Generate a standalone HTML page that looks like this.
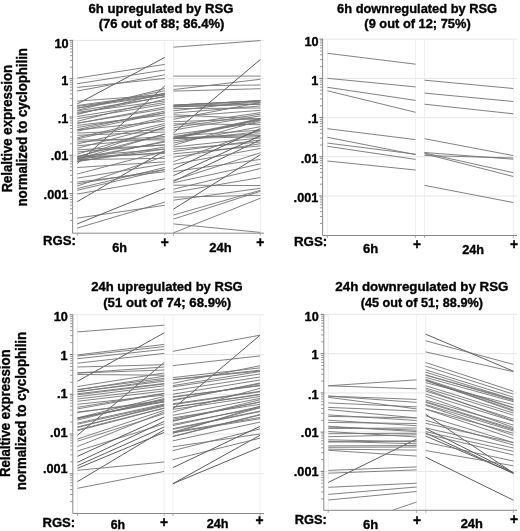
<!DOCTYPE html>
<html><head><meta charset="utf-8"><style>html,body{margin:0;padding:0;background:#fff;}svg{display:block;filter:grayscale(1) blur(0.35px);}</style></head>
<body><svg width="520" height="531" viewBox="0 0 520 531"><line x1="72.6" y1="40.40" x2="264" y2="40.40" stroke="#e6e6e6" stroke-width="1"/><line x1="72.6" y1="78.70" x2="264" y2="78.70" stroke="#e6e6e6" stroke-width="1"/><line x1="72.6" y1="117.00" x2="264" y2="117.00" stroke="#e6e6e6" stroke-width="1"/><line x1="72.6" y1="155.30" x2="264" y2="155.30" stroke="#e6e6e6" stroke-width="1"/><line x1="72.6" y1="193.60" x2="264" y2="193.60" stroke="#e6e6e6" stroke-width="1"/><line x1="77.3" y1="40.4" x2="77.3" y2="233.2" stroke="#efefef" stroke-width="1"/><line x1="164.8" y1="40.4" x2="164.8" y2="233.2" stroke="#efefef" stroke-width="1"/><line x1="173.5" y1="40.4" x2="173.5" y2="233.2" stroke="#efefef" stroke-width="1"/><line x1="260.4" y1="40.4" x2="260.4" y2="233.2" stroke="#efefef" stroke-width="1"/><line x1="77.3" y1="103.9" x2="164.8" y2="57.4" stroke="#5e5e5e" stroke-width="1.0"/><line x1="77.3" y1="163.4" x2="164.8" y2="86" stroke="#5e5e5e" stroke-width="1.0"/><line x1="77.3" y1="201.6" x2="164.8" y2="150.6" stroke="#5e5e5e" stroke-width="1.0"/><line x1="77.3" y1="218.1" x2="164.8" y2="205.3" stroke="#747474" stroke-width="0.9"/><line x1="77.3" y1="223.9" x2="164.8" y2="188.5" stroke="#5e5e5e" stroke-width="1.0"/><line x1="77.3" y1="228.1" x2="164.8" y2="202.1" stroke="#747474" stroke-width="0.9"/><line x1="77.3" y1="157.5" x2="164.8" y2="127.0" stroke="#747474" stroke-width="0.9"/><line x1="77.3" y1="159.0" x2="164.8" y2="134.0" stroke="#747474" stroke-width="0.9"/><line x1="77.3" y1="160.5" x2="164.8" y2="141.0" stroke="#747474" stroke-width="0.9"/><line x1="77.3" y1="161.5" x2="164.8" y2="149.0" stroke="#747474" stroke-width="0.9"/><line x1="77.3" y1="158.5" x2="164.8" y2="152.5" stroke="#747474" stroke-width="0.9"/><line x1="77.3" y1="105.5" x2="164.8" y2="93.5" stroke="#747474" stroke-width="0.9"/><line x1="77.3" y1="108.0" x2="164.8" y2="95.0" stroke="#747474" stroke-width="0.9"/><line x1="77.3" y1="111.0" x2="164.8" y2="96.8" stroke="#747474" stroke-width="0.9"/><line x1="77.3" y1="78.1" x2="164.8" y2="64.4" stroke="#747474" stroke-width="0.9"/><line x1="77.3" y1="83.7" x2="164.8" y2="70.0" stroke="#747474" stroke-width="0.9"/><line x1="77.3" y1="87.4" x2="164.8" y2="78.5" stroke="#747474" stroke-width="0.9"/><line x1="77.3" y1="91.0" x2="164.8" y2="74.7" stroke="#747474" stroke-width="0.9"/><line x1="77.3" y1="101.2" x2="164.8" y2="94.7" stroke="#747474" stroke-width="0.9"/><line x1="77.3" y1="106.4" x2="164.8" y2="94.7" stroke="#747474" stroke-width="0.9"/><line x1="77.3" y1="108.3" x2="164.8" y2="90.7" stroke="#747474" stroke-width="0.9"/><line x1="77.3" y1="110.3" x2="164.8" y2="88.5" stroke="#747474" stroke-width="0.9"/><line x1="77.3" y1="112.4" x2="164.8" y2="100.9" stroke="#747474" stroke-width="0.9"/><line x1="77.3" y1="113.6" x2="164.8" y2="96.4" stroke="#747474" stroke-width="0.9"/><line x1="77.3" y1="114.4" x2="164.8" y2="93.0" stroke="#747474" stroke-width="0.9"/><line x1="77.3" y1="116.5" x2="164.8" y2="102.6" stroke="#747474" stroke-width="0.9"/><line x1="77.3" y1="118.7" x2="164.8" y2="104.3" stroke="#747474" stroke-width="0.9"/><line x1="77.3" y1="121.3" x2="164.8" y2="99.2" stroke="#747474" stroke-width="0.9"/><line x1="77.3" y1="123.2" x2="164.8" y2="108.8" stroke="#747474" stroke-width="0.9"/><line x1="77.3" y1="123.3" x2="164.8" y2="107.1" stroke="#747474" stroke-width="0.9"/><line x1="77.3" y1="125.4" x2="164.8" y2="115.0" stroke="#747474" stroke-width="0.9"/><line x1="77.3" y1="127.5" x2="164.8" y2="112.8" stroke="#747474" stroke-width="0.9"/><line x1="77.3" y1="129.6" x2="164.8" y2="111.1" stroke="#747474" stroke-width="0.9"/><line x1="77.3" y1="129.9" x2="164.8" y2="121.2" stroke="#747474" stroke-width="0.9"/><line x1="77.3" y1="131.1" x2="164.8" y2="112.8" stroke="#747474" stroke-width="0.9"/><line x1="77.3" y1="133.1" x2="164.8" y2="129.7" stroke="#747474" stroke-width="0.9"/><line x1="77.3" y1="135.3" x2="164.8" y2="132.0" stroke="#747474" stroke-width="0.9"/><line x1="77.3" y1="137.7" x2="164.8" y2="117.3" stroke="#747474" stroke-width="0.9"/><line x1="77.3" y1="139.0" x2="164.8" y2="119.0" stroke="#747474" stroke-width="0.9"/><line x1="77.3" y1="139.9" x2="164.8" y2="139.9" stroke="#747474" stroke-width="0.9"/><line x1="77.3" y1="142.0" x2="164.8" y2="136.5" stroke="#747474" stroke-width="0.9"/><line x1="77.3" y1="144.0" x2="164.8" y2="123.5" stroke="#747474" stroke-width="0.9"/><line x1="77.3" y1="145.8" x2="164.8" y2="137.8" stroke="#747474" stroke-width="0.9"/><line x1="77.3" y1="148.3" x2="164.8" y2="125.2" stroke="#747474" stroke-width="0.9"/><line x1="77.3" y1="149.9" x2="164.8" y2="144.9" stroke="#747474" stroke-width="0.9"/><line x1="77.3" y1="152.0" x2="164.8" y2="144.9" stroke="#747474" stroke-width="0.9"/><line x1="77.3" y1="154.1" x2="164.8" y2="127.5" stroke="#747474" stroke-width="0.9"/><line x1="77.3" y1="156.3" x2="164.8" y2="149.1" stroke="#747474" stroke-width="0.9"/><line x1="77.3" y1="156.5" x2="164.8" y2="134.2" stroke="#747474" stroke-width="0.9"/><line x1="77.3" y1="157.1" x2="164.8" y2="153.4" stroke="#747474" stroke-width="0.9"/><line x1="77.3" y1="158.4" x2="164.8" y2="142.0" stroke="#747474" stroke-width="0.9"/><line x1="77.3" y1="159.6" x2="164.8" y2="158.3" stroke="#747474" stroke-width="0.9"/><line x1="77.3" y1="161.4" x2="164.8" y2="147.0" stroke="#747474" stroke-width="0.9"/><line x1="77.3" y1="167.5" x2="164.8" y2="161.8" stroke="#747474" stroke-width="0.9"/><line x1="77.3" y1="174.0" x2="164.8" y2="151.2" stroke="#747474" stroke-width="0.9"/><line x1="77.3" y1="178.1" x2="164.8" y2="164.0" stroke="#747474" stroke-width="0.9"/><line x1="77.3" y1="182.1" x2="164.8" y2="171.7" stroke="#747474" stroke-width="0.9"/><line x1="77.3" y1="183.8" x2="164.8" y2="169.6" stroke="#747474" stroke-width="0.9"/><line x1="77.3" y1="186.0" x2="164.8" y2="156.2" stroke="#747474" stroke-width="0.9"/><line x1="77.3" y1="188.5" x2="164.8" y2="167.5" stroke="#747474" stroke-width="0.9"/><line x1="77.3" y1="190.3" x2="164.8" y2="169.6" stroke="#747474" stroke-width="0.9"/><line x1="77.3" y1="194.0" x2="164.8" y2="178.8" stroke="#747474" stroke-width="0.9"/><line x1="173.5" y1="47.2" x2="260.4" y2="40.6" stroke="#747474" stroke-width="0.9"/><line x1="173.5" y1="76.1" x2="260.4" y2="76.1" stroke="#747474" stroke-width="0.9"/><line x1="173.5" y1="89.6" x2="260.4" y2="79.3" stroke="#747474" stroke-width="0.9"/><line x1="173.5" y1="91.1" x2="260.4" y2="88.7" stroke="#747474" stroke-width="0.9"/><line x1="173.5" y1="86" x2="260.4" y2="85" stroke="#747474" stroke-width="0.9"/><line x1="173.5" y1="132.9" x2="260.4" y2="59.5" stroke="#5e5e5e" stroke-width="1.0"/><line x1="173.5" y1="223.9" x2="260.4" y2="232.4" stroke="#747474" stroke-width="0.9"/><line x1="173.5" y1="232.8" x2="260.4" y2="198.2" stroke="#747474" stroke-width="0.9"/><line x1="173.5" y1="219" x2="260.4" y2="191.3" stroke="#747474" stroke-width="0.9"/><line x1="173.5" y1="215" x2="260.4" y2="190.3" stroke="#747474" stroke-width="0.9"/><line x1="173.5" y1="209.1" x2="260.4" y2="154.7" stroke="#5e5e5e" stroke-width="1.0"/><line x1="173.5" y1="200.2" x2="260.4" y2="188.3" stroke="#747474" stroke-width="0.9"/><line x1="173.5" y1="197.2" x2="260.4" y2="195.3" stroke="#747474" stroke-width="0.9"/><line x1="173.5" y1="192.3" x2="260.4" y2="177.5" stroke="#747474" stroke-width="0.9"/><line x1="173.5" y1="181.4" x2="260.4" y2="139.9" stroke="#5e5e5e" stroke-width="1.0"/><line x1="173.5" y1="161.6" x2="260.4" y2="130" stroke="#747474" stroke-width="0.9"/><line x1="173.5" y1="105.3" x2="260.4" y2="100.5" stroke="#747474" stroke-width="0.9"/><line x1="173.5" y1="106.0" x2="260.4" y2="102.5" stroke="#747474" stroke-width="0.9"/><line x1="173.5" y1="106.8" x2="260.4" y2="104.0" stroke="#747474" stroke-width="0.9"/><line x1="173.5" y1="137.2" x2="260.4" y2="118.5" stroke="#747474" stroke-width="0.9"/><line x1="173.5" y1="138.2" x2="260.4" y2="119.3" stroke="#747474" stroke-width="0.9"/><line x1="173.5" y1="139.0" x2="260.4" y2="120.0" stroke="#747474" stroke-width="0.9"/><line x1="173.5" y1="137.8" x2="260.4" y2="135.5" stroke="#747474" stroke-width="0.9"/><line x1="173.5" y1="138.6" x2="260.4" y2="136.8" stroke="#747474" stroke-width="0.9"/><line x1="173.5" y1="105.2" x2="260.4" y2="100.8" stroke="#747474" stroke-width="0.9"/><line x1="173.5" y1="105.2" x2="260.4" y2="100.8" stroke="#747474" stroke-width="0.9"/><line x1="173.5" y1="106.9" x2="260.4" y2="104.2" stroke="#747474" stroke-width="0.9"/><line x1="173.5" y1="108.6" x2="260.4" y2="108.0" stroke="#747474" stroke-width="0.9"/><line x1="173.5" y1="110.8" x2="260.4" y2="100.8" stroke="#747474" stroke-width="0.9"/><line x1="173.5" y1="113.1" x2="260.4" y2="106.0" stroke="#747474" stroke-width="0.9"/><line x1="173.5" y1="114.8" x2="260.4" y2="118.9" stroke="#747474" stroke-width="0.9"/><line x1="173.5" y1="117.0" x2="260.4" y2="110.3" stroke="#747474" stroke-width="0.9"/><line x1="173.5" y1="119.3" x2="260.4" y2="102.5" stroke="#747474" stroke-width="0.9"/><line x1="173.5" y1="121.6" x2="260.4" y2="118.9" stroke="#747474" stroke-width="0.9"/><line x1="173.5" y1="123.8" x2="260.4" y2="124.7" stroke="#747474" stroke-width="0.9"/><line x1="173.5" y1="125.5" x2="260.4" y2="112.6" stroke="#747474" stroke-width="0.9"/><line x1="173.5" y1="127.8" x2="260.4" y2="114.1" stroke="#747474" stroke-width="0.9"/><line x1="173.5" y1="130.0" x2="260.4" y2="115.8" stroke="#747474" stroke-width="0.9"/><line x1="173.5" y1="134.5" x2="260.4" y2="122.6" stroke="#747474" stroke-width="0.9"/><line x1="173.5" y1="136.2" x2="260.4" y2="130.1" stroke="#747474" stroke-width="0.9"/><line x1="173.5" y1="138.5" x2="260.4" y2="118.9" stroke="#747474" stroke-width="0.9"/><line x1="173.5" y1="138.5" x2="260.4" y2="133.8" stroke="#747474" stroke-width="0.9"/><line x1="173.5" y1="140.8" x2="260.4" y2="131.7" stroke="#747474" stroke-width="0.9"/><line x1="173.5" y1="143.0" x2="260.4" y2="126.7" stroke="#747474" stroke-width="0.9"/><line x1="173.5" y1="145.3" x2="260.4" y2="120.6" stroke="#747474" stroke-width="0.9"/><line x1="173.5" y1="147.0" x2="260.4" y2="137.9" stroke="#747474" stroke-width="0.9"/><line x1="173.5" y1="149.2" x2="260.4" y2="142.0" stroke="#747474" stroke-width="0.9"/><line x1="173.5" y1="151.5" x2="260.4" y2="140.0" stroke="#747474" stroke-width="0.9"/><line x1="173.5" y1="153.8" x2="260.4" y2="145.9" stroke="#747474" stroke-width="0.9"/><line x1="173.5" y1="157.2" x2="260.4" y2="143.7" stroke="#747474" stroke-width="0.9"/><line x1="173.5" y1="164.4" x2="260.4" y2="148.4" stroke="#747474" stroke-width="0.9"/><line x1="173.5" y1="169.2" x2="260.4" y2="128.5" stroke="#5e5e5e" stroke-width="1.0"/><line x1="173.5" y1="171.6" x2="260.4" y2="159.4" stroke="#747474" stroke-width="0.9"/><line x1="173.5" y1="175.6" x2="260.4" y2="135.8" stroke="#5e5e5e" stroke-width="1.0"/><line x1="173.5" y1="180.4" x2="260.4" y2="152.7" stroke="#747474" stroke-width="0.9"/><line x1="173.5" y1="182.8" x2="260.4" y2="163.9" stroke="#747474" stroke-width="0.9"/><line x1="173.5" y1="185.2" x2="260.4" y2="185.6" stroke="#747474" stroke-width="0.9"/><line x1="173.5" y1="189.2" x2="260.4" y2="168.5" stroke="#747474" stroke-width="0.9"/><line x1="72.6" y1="39.9" x2="72.6" y2="233.2" stroke="#888888" stroke-width="1"/><line x1="72.6" y1="233.2" x2="264" y2="233.2" stroke="#888888" stroke-width="1"/><line x1="69.39999999999999" y1="40.40" x2="72.6" y2="40.40" stroke="#7a7a7a" stroke-width="1"/><line x1="70.0" y1="67.17" x2="72.6" y2="67.17" stroke="#8c8c8c" stroke-width="0.9"/><line x1="70.0" y1="60.43" x2="72.6" y2="60.43" stroke="#8c8c8c" stroke-width="0.9"/><line x1="70.0" y1="55.64" x2="72.6" y2="55.64" stroke="#8c8c8c" stroke-width="0.9"/><line x1="70.0" y1="51.93" x2="72.6" y2="51.93" stroke="#8c8c8c" stroke-width="0.9"/><line x1="70.0" y1="48.90" x2="72.6" y2="48.90" stroke="#8c8c8c" stroke-width="0.9"/><line x1="70.0" y1="46.33" x2="72.6" y2="46.33" stroke="#8c8c8c" stroke-width="0.9"/><line x1="70.0" y1="44.11" x2="72.6" y2="44.11" stroke="#8c8c8c" stroke-width="0.9"/><line x1="70.0" y1="42.15" x2="72.6" y2="42.15" stroke="#8c8c8c" stroke-width="0.9"/><line x1="69.39999999999999" y1="78.70" x2="72.6" y2="78.70" stroke="#7a7a7a" stroke-width="1"/><line x1="70.0" y1="105.47" x2="72.6" y2="105.47" stroke="#8c8c8c" stroke-width="0.9"/><line x1="70.0" y1="98.73" x2="72.6" y2="98.73" stroke="#8c8c8c" stroke-width="0.9"/><line x1="70.0" y1="93.94" x2="72.6" y2="93.94" stroke="#8c8c8c" stroke-width="0.9"/><line x1="70.0" y1="90.23" x2="72.6" y2="90.23" stroke="#8c8c8c" stroke-width="0.9"/><line x1="70.0" y1="87.20" x2="72.6" y2="87.20" stroke="#8c8c8c" stroke-width="0.9"/><line x1="70.0" y1="84.63" x2="72.6" y2="84.63" stroke="#8c8c8c" stroke-width="0.9"/><line x1="70.0" y1="82.41" x2="72.6" y2="82.41" stroke="#8c8c8c" stroke-width="0.9"/><line x1="70.0" y1="80.45" x2="72.6" y2="80.45" stroke="#8c8c8c" stroke-width="0.9"/><line x1="69.39999999999999" y1="117.00" x2="72.6" y2="117.00" stroke="#7a7a7a" stroke-width="1"/><line x1="70.0" y1="143.77" x2="72.6" y2="143.77" stroke="#8c8c8c" stroke-width="0.9"/><line x1="70.0" y1="137.03" x2="72.6" y2="137.03" stroke="#8c8c8c" stroke-width="0.9"/><line x1="70.0" y1="132.24" x2="72.6" y2="132.24" stroke="#8c8c8c" stroke-width="0.9"/><line x1="70.0" y1="128.53" x2="72.6" y2="128.53" stroke="#8c8c8c" stroke-width="0.9"/><line x1="70.0" y1="125.50" x2="72.6" y2="125.50" stroke="#8c8c8c" stroke-width="0.9"/><line x1="70.0" y1="122.93" x2="72.6" y2="122.93" stroke="#8c8c8c" stroke-width="0.9"/><line x1="70.0" y1="120.71" x2="72.6" y2="120.71" stroke="#8c8c8c" stroke-width="0.9"/><line x1="70.0" y1="118.75" x2="72.6" y2="118.75" stroke="#8c8c8c" stroke-width="0.9"/><line x1="69.39999999999999" y1="155.30" x2="72.6" y2="155.30" stroke="#7a7a7a" stroke-width="1"/><line x1="70.0" y1="182.07" x2="72.6" y2="182.07" stroke="#8c8c8c" stroke-width="0.9"/><line x1="70.0" y1="175.33" x2="72.6" y2="175.33" stroke="#8c8c8c" stroke-width="0.9"/><line x1="70.0" y1="170.54" x2="72.6" y2="170.54" stroke="#8c8c8c" stroke-width="0.9"/><line x1="70.0" y1="166.83" x2="72.6" y2="166.83" stroke="#8c8c8c" stroke-width="0.9"/><line x1="70.0" y1="163.80" x2="72.6" y2="163.80" stroke="#8c8c8c" stroke-width="0.9"/><line x1="70.0" y1="161.23" x2="72.6" y2="161.23" stroke="#8c8c8c" stroke-width="0.9"/><line x1="70.0" y1="159.01" x2="72.6" y2="159.01" stroke="#8c8c8c" stroke-width="0.9"/><line x1="70.0" y1="157.05" x2="72.6" y2="157.05" stroke="#8c8c8c" stroke-width="0.9"/><line x1="69.39999999999999" y1="193.60" x2="72.6" y2="193.60" stroke="#7a7a7a" stroke-width="1"/><line x1="70.0" y1="220.37" x2="72.6" y2="220.37" stroke="#8c8c8c" stroke-width="0.9"/><line x1="70.0" y1="213.63" x2="72.6" y2="213.63" stroke="#8c8c8c" stroke-width="0.9"/><line x1="70.0" y1="208.84" x2="72.6" y2="208.84" stroke="#8c8c8c" stroke-width="0.9"/><line x1="70.0" y1="205.13" x2="72.6" y2="205.13" stroke="#8c8c8c" stroke-width="0.9"/><line x1="70.0" y1="202.10" x2="72.6" y2="202.10" stroke="#8c8c8c" stroke-width="0.9"/><line x1="70.0" y1="199.53" x2="72.6" y2="199.53" stroke="#8c8c8c" stroke-width="0.9"/><line x1="70.0" y1="197.31" x2="72.6" y2="197.31" stroke="#8c8c8c" stroke-width="0.9"/><line x1="70.0" y1="195.35" x2="72.6" y2="195.35" stroke="#8c8c8c" stroke-width="0.9"/><line x1="77.3" y1="233.2" x2="77.3" y2="235.7" stroke="#9a9a9a" stroke-width="0.8"/><line x1="164.8" y1="233.2" x2="164.8" y2="235.7" stroke="#9a9a9a" stroke-width="0.8"/><line x1="173.5" y1="233.2" x2="173.5" y2="235.7" stroke="#9a9a9a" stroke-width="0.8"/><line x1="260.4" y1="233.2" x2="260.4" y2="235.7" stroke="#9a9a9a" stroke-width="0.8"/><line x1="322.6" y1="39.20" x2="517" y2="39.20" stroke="#e6e6e6" stroke-width="1"/><line x1="322.6" y1="78.40" x2="517" y2="78.40" stroke="#e6e6e6" stroke-width="1"/><line x1="322.6" y1="117.60" x2="517" y2="117.60" stroke="#e6e6e6" stroke-width="1"/><line x1="322.6" y1="156.80" x2="517" y2="156.80" stroke="#e6e6e6" stroke-width="1"/><line x1="322.6" y1="196.00" x2="517" y2="196.00" stroke="#e6e6e6" stroke-width="1"/><line x1="327.5" y1="39.2" x2="327.5" y2="235.5" stroke="#efefef" stroke-width="1"/><line x1="415.6" y1="39.2" x2="415.6" y2="235.5" stroke="#efefef" stroke-width="1"/><line x1="424.5" y1="39.2" x2="424.5" y2="235.5" stroke="#efefef" stroke-width="1"/><line x1="513.3" y1="39.2" x2="513.3" y2="235.5" stroke="#efefef" stroke-width="1"/><line x1="327.5" y1="53.3" x2="415.6" y2="64.2" stroke="#747474" stroke-width="0.9"/><line x1="327.5" y1="78.3" x2="415.6" y2="86.9" stroke="#747474" stroke-width="0.9"/><line x1="327.5" y1="87.3" x2="415.6" y2="100.4" stroke="#747474" stroke-width="0.9"/><line x1="327.5" y1="90.8" x2="415.6" y2="112.3" stroke="#747474" stroke-width="0.9"/><line x1="327.5" y1="128.7" x2="415.6" y2="139.6" stroke="#747474" stroke-width="0.9"/><line x1="327.5" y1="137.3" x2="415.6" y2="154.6" stroke="#747474" stroke-width="0.9"/><line x1="327.5" y1="143.1" x2="415.6" y2="154.2" stroke="#747474" stroke-width="0.9"/><line x1="327.5" y1="146.3" x2="415.6" y2="159.4" stroke="#747474" stroke-width="0.9"/><line x1="327.5" y1="161" x2="415.6" y2="170" stroke="#747474" stroke-width="0.9"/><line x1="424.5" y1="80.2" x2="513.3" y2="88.5" stroke="#747474" stroke-width="0.9"/><line x1="424.5" y1="93.1" x2="513.3" y2="101.5" stroke="#747474" stroke-width="0.9"/><line x1="424.5" y1="104.2" x2="513.3" y2="113.8" stroke="#747474" stroke-width="0.9"/><line x1="424.5" y1="138.7" x2="513.3" y2="155.6" stroke="#747474" stroke-width="0.9"/><line x1="424.5" y1="152.5" x2="513.3" y2="159.2" stroke="#747474" stroke-width="0.9"/><line x1="424.5" y1="155.5" x2="513.3" y2="158" stroke="#747474" stroke-width="0.9"/><line x1="424.5" y1="153" x2="513.3" y2="172.7" stroke="#747474" stroke-width="0.9"/><line x1="424.5" y1="153.8" x2="513.3" y2="176.5" stroke="#747474" stroke-width="0.9"/><line x1="424.5" y1="185.4" x2="513.3" y2="202.5" stroke="#747474" stroke-width="0.9"/><line x1="322.6" y1="38.7" x2="322.6" y2="235.5" stroke="#888888" stroke-width="1"/><line x1="322.6" y1="235.5" x2="517" y2="235.5" stroke="#888888" stroke-width="1"/><line x1="319.40000000000003" y1="39.20" x2="322.6" y2="39.20" stroke="#7a7a7a" stroke-width="1"/><line x1="320.0" y1="66.60" x2="322.6" y2="66.60" stroke="#8c8c8c" stroke-width="0.9"/><line x1="320.0" y1="59.70" x2="322.6" y2="59.70" stroke="#8c8c8c" stroke-width="0.9"/><line x1="320.0" y1="54.80" x2="322.6" y2="54.80" stroke="#8c8c8c" stroke-width="0.9"/><line x1="320.0" y1="51.00" x2="322.6" y2="51.00" stroke="#8c8c8c" stroke-width="0.9"/><line x1="320.0" y1="47.90" x2="322.6" y2="47.90" stroke="#8c8c8c" stroke-width="0.9"/><line x1="320.0" y1="45.27" x2="322.6" y2="45.27" stroke="#8c8c8c" stroke-width="0.9"/><line x1="320.0" y1="43.00" x2="322.6" y2="43.00" stroke="#8c8c8c" stroke-width="0.9"/><line x1="320.0" y1="40.99" x2="322.6" y2="40.99" stroke="#8c8c8c" stroke-width="0.9"/><line x1="319.40000000000003" y1="78.40" x2="322.6" y2="78.40" stroke="#7a7a7a" stroke-width="1"/><line x1="320.0" y1="105.80" x2="322.6" y2="105.80" stroke="#8c8c8c" stroke-width="0.9"/><line x1="320.0" y1="98.90" x2="322.6" y2="98.90" stroke="#8c8c8c" stroke-width="0.9"/><line x1="320.0" y1="94.00" x2="322.6" y2="94.00" stroke="#8c8c8c" stroke-width="0.9"/><line x1="320.0" y1="90.20" x2="322.6" y2="90.20" stroke="#8c8c8c" stroke-width="0.9"/><line x1="320.0" y1="87.10" x2="322.6" y2="87.10" stroke="#8c8c8c" stroke-width="0.9"/><line x1="320.0" y1="84.47" x2="322.6" y2="84.47" stroke="#8c8c8c" stroke-width="0.9"/><line x1="320.0" y1="82.20" x2="322.6" y2="82.20" stroke="#8c8c8c" stroke-width="0.9"/><line x1="320.0" y1="80.19" x2="322.6" y2="80.19" stroke="#8c8c8c" stroke-width="0.9"/><line x1="319.40000000000003" y1="117.60" x2="322.6" y2="117.60" stroke="#7a7a7a" stroke-width="1"/><line x1="320.0" y1="145.00" x2="322.6" y2="145.00" stroke="#8c8c8c" stroke-width="0.9"/><line x1="320.0" y1="138.10" x2="322.6" y2="138.10" stroke="#8c8c8c" stroke-width="0.9"/><line x1="320.0" y1="133.20" x2="322.6" y2="133.20" stroke="#8c8c8c" stroke-width="0.9"/><line x1="320.0" y1="129.40" x2="322.6" y2="129.40" stroke="#8c8c8c" stroke-width="0.9"/><line x1="320.0" y1="126.30" x2="322.6" y2="126.30" stroke="#8c8c8c" stroke-width="0.9"/><line x1="320.0" y1="123.67" x2="322.6" y2="123.67" stroke="#8c8c8c" stroke-width="0.9"/><line x1="320.0" y1="121.40" x2="322.6" y2="121.40" stroke="#8c8c8c" stroke-width="0.9"/><line x1="320.0" y1="119.39" x2="322.6" y2="119.39" stroke="#8c8c8c" stroke-width="0.9"/><line x1="319.40000000000003" y1="156.80" x2="322.6" y2="156.80" stroke="#7a7a7a" stroke-width="1"/><line x1="320.0" y1="184.20" x2="322.6" y2="184.20" stroke="#8c8c8c" stroke-width="0.9"/><line x1="320.0" y1="177.30" x2="322.6" y2="177.30" stroke="#8c8c8c" stroke-width="0.9"/><line x1="320.0" y1="172.40" x2="322.6" y2="172.40" stroke="#8c8c8c" stroke-width="0.9"/><line x1="320.0" y1="168.60" x2="322.6" y2="168.60" stroke="#8c8c8c" stroke-width="0.9"/><line x1="320.0" y1="165.50" x2="322.6" y2="165.50" stroke="#8c8c8c" stroke-width="0.9"/><line x1="320.0" y1="162.87" x2="322.6" y2="162.87" stroke="#8c8c8c" stroke-width="0.9"/><line x1="320.0" y1="160.60" x2="322.6" y2="160.60" stroke="#8c8c8c" stroke-width="0.9"/><line x1="320.0" y1="158.59" x2="322.6" y2="158.59" stroke="#8c8c8c" stroke-width="0.9"/><line x1="319.40000000000003" y1="196.00" x2="322.6" y2="196.00" stroke="#7a7a7a" stroke-width="1"/><line x1="320.0" y1="223.40" x2="322.6" y2="223.40" stroke="#8c8c8c" stroke-width="0.9"/><line x1="320.0" y1="216.50" x2="322.6" y2="216.50" stroke="#8c8c8c" stroke-width="0.9"/><line x1="320.0" y1="211.60" x2="322.6" y2="211.60" stroke="#8c8c8c" stroke-width="0.9"/><line x1="320.0" y1="207.80" x2="322.6" y2="207.80" stroke="#8c8c8c" stroke-width="0.9"/><line x1="320.0" y1="204.70" x2="322.6" y2="204.70" stroke="#8c8c8c" stroke-width="0.9"/><line x1="320.0" y1="202.07" x2="322.6" y2="202.07" stroke="#8c8c8c" stroke-width="0.9"/><line x1="320.0" y1="199.80" x2="322.6" y2="199.80" stroke="#8c8c8c" stroke-width="0.9"/><line x1="320.0" y1="197.79" x2="322.6" y2="197.79" stroke="#8c8c8c" stroke-width="0.9"/><line x1="327.5" y1="235.5" x2="327.5" y2="238.0" stroke="#9a9a9a" stroke-width="0.8"/><line x1="415.6" y1="235.5" x2="415.6" y2="238.0" stroke="#9a9a9a" stroke-width="0.8"/><line x1="424.5" y1="235.5" x2="424.5" y2="238.0" stroke="#9a9a9a" stroke-width="0.8"/><line x1="513.3" y1="235.5" x2="513.3" y2="238.0" stroke="#9a9a9a" stroke-width="0.8"/><line x1="72.8" y1="314.80" x2="264" y2="314.80" stroke="#e6e6e6" stroke-width="1"/><line x1="72.8" y1="354.55" x2="264" y2="354.55" stroke="#e6e6e6" stroke-width="1"/><line x1="72.8" y1="394.30" x2="264" y2="394.30" stroke="#e6e6e6" stroke-width="1"/><line x1="72.8" y1="434.05" x2="264" y2="434.05" stroke="#e6e6e6" stroke-width="1"/><line x1="72.8" y1="473.80" x2="264" y2="473.80" stroke="#e6e6e6" stroke-width="1"/><line x1="77.5" y1="314.8" x2="77.5" y2="513.5" stroke="#efefef" stroke-width="1"/><line x1="164.2" y1="314.8" x2="164.2" y2="513.5" stroke="#efefef" stroke-width="1"/><line x1="172.9" y1="314.8" x2="172.9" y2="513.5" stroke="#efefef" stroke-width="1"/><line x1="260.0" y1="314.8" x2="260.0" y2="513.5" stroke="#efefef" stroke-width="1"/><line x1="77.5" y1="331.9" x2="164.2" y2="325.2" stroke="#747474" stroke-width="0.9"/><line x1="77.5" y1="381.3" x2="164.2" y2="332.8" stroke="#5e5e5e" stroke-width="1.0"/><line x1="77.5" y1="435.2" x2="164.2" y2="362.4" stroke="#5e5e5e" stroke-width="1.0"/><line x1="77.5" y1="481.6" x2="164.2" y2="429.8" stroke="#5e5e5e" stroke-width="1.0"/><line x1="77.5" y1="488.3" x2="164.2" y2="471.4" stroke="#747474" stroke-width="0.9"/><line x1="77.5" y1="470.3" x2="164.2" y2="462" stroke="#747474" stroke-width="0.9"/><line x1="77.5" y1="354.9" x2="164.2" y2="344.4" stroke="#747474" stroke-width="0.9"/><line x1="77.5" y1="356.0" x2="164.2" y2="346.6" stroke="#747474" stroke-width="0.9"/><line x1="77.5" y1="358.7" x2="164.2" y2="349.3" stroke="#747474" stroke-width="0.9"/><line x1="77.5" y1="363.2" x2="164.2" y2="353.4" stroke="#747474" stroke-width="0.9"/><line x1="77.5" y1="367.0" x2="164.2" y2="364.7" stroke="#747474" stroke-width="0.9"/><line x1="77.5" y1="373.0" x2="164.2" y2="367.0" stroke="#747474" stroke-width="0.9"/><line x1="77.5" y1="373.0" x2="164.2" y2="370.0" stroke="#747474" stroke-width="0.9"/><line x1="77.5" y1="374.5" x2="164.2" y2="375.2" stroke="#747474" stroke-width="0.9"/><line x1="77.5" y1="386.5" x2="164.2" y2="373.0" stroke="#747474" stroke-width="0.9"/><line x1="77.5" y1="389.5" x2="164.2" y2="378.3" stroke="#747474" stroke-width="0.9"/><line x1="77.5" y1="391.5" x2="164.2" y2="381.3" stroke="#747474" stroke-width="0.9"/><line x1="77.5" y1="393.8" x2="164.2" y2="383.5" stroke="#747474" stroke-width="0.9"/><line x1="77.5" y1="396.8" x2="164.2" y2="385.8" stroke="#747474" stroke-width="0.9"/><line x1="77.5" y1="399.0" x2="164.2" y2="388.8" stroke="#747474" stroke-width="0.9"/><line x1="77.5" y1="401.3" x2="164.2" y2="391.0" stroke="#747474" stroke-width="0.9"/><line x1="77.5" y1="404.3" x2="164.2" y2="395.1" stroke="#747474" stroke-width="0.9"/><line x1="77.5" y1="407.3" x2="164.2" y2="393.3" stroke="#747474" stroke-width="0.9"/><line x1="77.5" y1="412.6" x2="164.2" y2="400.0" stroke="#747474" stroke-width="0.9"/><line x1="77.5" y1="417.9" x2="164.2" y2="396.5" stroke="#747474" stroke-width="0.9"/><line x1="77.5" y1="417.9" x2="164.2" y2="401.9" stroke="#747474" stroke-width="0.9"/><line x1="77.5" y1="420.1" x2="164.2" y2="398.5" stroke="#747474" stroke-width="0.9"/><line x1="77.5" y1="423.1" x2="164.2" y2="404.0" stroke="#747474" stroke-width="0.9"/><line x1="77.5" y1="426.9" x2="164.2" y2="406.1" stroke="#747474" stroke-width="0.9"/><line x1="77.5" y1="429.9" x2="164.2" y2="408.0" stroke="#747474" stroke-width="0.9"/><line x1="77.5" y1="439.0" x2="164.2" y2="410.3" stroke="#747474" stroke-width="0.9"/><line x1="77.5" y1="441.2" x2="164.2" y2="413.7" stroke="#747474" stroke-width="0.9"/><line x1="77.5" y1="446.5" x2="164.2" y2="412.0" stroke="#747474" stroke-width="0.9"/><line x1="77.5" y1="451.0" x2="164.2" y2="423.9" stroke="#747474" stroke-width="0.9"/><line x1="77.5" y1="456.3" x2="164.2" y2="417.0" stroke="#5e5e5e" stroke-width="1.0"/><line x1="77.5" y1="462.3" x2="164.2" y2="421.4" stroke="#5e5e5e" stroke-width="1.0"/><line x1="77.5" y1="465.7" x2="164.2" y2="427.0" stroke="#5e5e5e" stroke-width="1.0"/><line x1="77.5" y1="468.3" x2="164.2" y2="432.4" stroke="#5e5e5e" stroke-width="1.0"/><line x1="77.5" y1="389.9" x2="164.2" y2="376.2" stroke="#747474" stroke-width="0.9"/><line x1="77.5" y1="391.9" x2="164.2" y2="379.7" stroke="#747474" stroke-width="0.9"/><line x1="77.5" y1="394.8" x2="164.2" y2="384.0" stroke="#747474" stroke-width="0.9"/><line x1="77.5" y1="408.9" x2="164.2" y2="393.5" stroke="#747474" stroke-width="0.9"/><line x1="77.5" y1="412.0" x2="164.2" y2="401.9" stroke="#747474" stroke-width="0.9"/><line x1="77.5" y1="418.3" x2="164.2" y2="401.0" stroke="#747474" stroke-width="0.9"/><line x1="77.5" y1="418.7" x2="164.2" y2="399.4" stroke="#747474" stroke-width="0.9"/><line x1="77.5" y1="424.2" x2="164.2" y2="404.9" stroke="#747474" stroke-width="0.9"/><line x1="77.5" y1="427.5" x2="164.2" y2="405.1" stroke="#747474" stroke-width="0.9"/><line x1="77.5" y1="430.7" x2="164.2" y2="408.2" stroke="#747474" stroke-width="0.9"/><line x1="172.9" y1="351.3" x2="260.0" y2="335.2" stroke="#747474" stroke-width="0.9"/><line x1="172.9" y1="408.8" x2="260.0" y2="335.3" stroke="#5e5e5e" stroke-width="1.0"/><line x1="172.9" y1="365.6" x2="260.0" y2="355.9" stroke="#747474" stroke-width="0.9"/><line x1="172.9" y1="483.7" x2="260.0" y2="447.3" stroke="#5e5e5e" stroke-width="1.0"/><line x1="172.9" y1="483.7" x2="260.0" y2="435.3" stroke="#5e5e5e" stroke-width="1.0"/><line x1="172.9" y1="377.6" x2="260.0" y2="367.9" stroke="#747474" stroke-width="0.9"/><line x1="172.9" y1="379.4" x2="260.0" y2="370.2" stroke="#747474" stroke-width="0.9"/><line x1="172.9" y1="383.3" x2="260.0" y2="365.7" stroke="#747474" stroke-width="0.9"/><line x1="172.9" y1="386.9" x2="260.0" y2="374.0" stroke="#747474" stroke-width="0.9"/><line x1="172.9" y1="390.6" x2="260.0" y2="377.0" stroke="#747474" stroke-width="0.9"/><line x1="172.9" y1="394.2" x2="260.0" y2="380.0" stroke="#747474" stroke-width="0.9"/><line x1="172.9" y1="397.2" x2="260.0" y2="385.2" stroke="#747474" stroke-width="0.9"/><line x1="172.9" y1="400.6" x2="260.0" y2="383.0" stroke="#747474" stroke-width="0.9"/><line x1="172.9" y1="403.8" x2="260.0" y2="391.3" stroke="#747474" stroke-width="0.9"/><line x1="172.9" y1="407.1" x2="260.0" y2="394.3" stroke="#747474" stroke-width="0.9"/><line x1="172.9" y1="409.4" x2="260.0" y2="396.5" stroke="#747474" stroke-width="0.9"/><line x1="172.9" y1="412.1" x2="260.0" y2="388.3" stroke="#747474" stroke-width="0.9"/><line x1="172.9" y1="415.3" x2="260.0" y2="398.4" stroke="#747474" stroke-width="0.9"/><line x1="172.9" y1="417.9" x2="260.0" y2="404.3" stroke="#747474" stroke-width="0.9"/><line x1="172.9" y1="420.7" x2="260.0" y2="401.8" stroke="#747474" stroke-width="0.9"/><line x1="172.9" y1="424.3" x2="260.0" y2="407.7" stroke="#747474" stroke-width="0.9"/><line x1="172.9" y1="428.6" x2="260.0" y2="411.1" stroke="#747474" stroke-width="0.9"/><line x1="172.9" y1="432.0" x2="260.0" y2="407.7" stroke="#747474" stroke-width="0.9"/><line x1="172.9" y1="432.8" x2="260.0" y2="418.7" stroke="#747474" stroke-width="0.9"/><line x1="172.9" y1="436.3" x2="260.0" y2="414.5" stroke="#747474" stroke-width="0.9"/><line x1="172.9" y1="440.8" x2="260.0" y2="422.1" stroke="#747474" stroke-width="0.9"/><line x1="172.9" y1="446.8" x2="260.0" y2="434.0" stroke="#747474" stroke-width="0.9"/><line x1="172.9" y1="450.6" x2="260.0" y2="428.9" stroke="#747474" stroke-width="0.9"/><line x1="172.9" y1="459.6" x2="260.0" y2="438.2" stroke="#747474" stroke-width="0.9"/><line x1="172.9" y1="467.6" x2="260.0" y2="426.4" stroke="#5e5e5e" stroke-width="1.0"/><line x1="172.9" y1="379.7" x2="260.0" y2="371.0" stroke="#747474" stroke-width="0.9"/><line x1="172.9" y1="385.6" x2="260.0" y2="371.5" stroke="#747474" stroke-width="0.9"/><line x1="172.9" y1="396.8" x2="260.0" y2="385.8" stroke="#747474" stroke-width="0.9"/><line x1="172.9" y1="399.9" x2="260.0" y2="383.7" stroke="#747474" stroke-width="0.9"/><line x1="172.9" y1="404.6" x2="260.0" y2="391.8" stroke="#747474" stroke-width="0.9"/><line x1="172.9" y1="407.2" x2="260.0" y2="394.7" stroke="#747474" stroke-width="0.9"/><line x1="172.9" y1="419.3" x2="260.0" y2="402.1" stroke="#747474" stroke-width="0.9"/><line x1="172.9" y1="421.4" x2="260.0" y2="399.7" stroke="#747474" stroke-width="0.9"/><line x1="172.9" y1="425.6" x2="260.0" y2="406.6" stroke="#747474" stroke-width="0.9"/><line x1="172.9" y1="429.3" x2="260.0" y2="411.6" stroke="#747474" stroke-width="0.9"/><line x1="172.9" y1="433.3" x2="260.0" y2="406.1" stroke="#747474" stroke-width="0.9"/><line x1="172.9" y1="432.2" x2="260.0" y2="417.5" stroke="#747474" stroke-width="0.9"/><line x1="172.9" y1="436.6" x2="260.0" y2="415.0" stroke="#747474" stroke-width="0.9"/><line x1="72.8" y1="314.3" x2="72.8" y2="513.5" stroke="#888888" stroke-width="1"/><line x1="72.8" y1="513.5" x2="264" y2="513.5" stroke="#888888" stroke-width="1"/><line x1="69.6" y1="314.80" x2="72.8" y2="314.80" stroke="#7a7a7a" stroke-width="1"/><line x1="70.2" y1="342.58" x2="72.8" y2="342.58" stroke="#8c8c8c" stroke-width="0.9"/><line x1="70.2" y1="335.58" x2="72.8" y2="335.58" stroke="#8c8c8c" stroke-width="0.9"/><line x1="70.2" y1="330.62" x2="72.8" y2="330.62" stroke="#8c8c8c" stroke-width="0.9"/><line x1="70.2" y1="326.77" x2="72.8" y2="326.77" stroke="#8c8c8c" stroke-width="0.9"/><line x1="70.2" y1="323.62" x2="72.8" y2="323.62" stroke="#8c8c8c" stroke-width="0.9"/><line x1="70.2" y1="320.96" x2="72.8" y2="320.96" stroke="#8c8c8c" stroke-width="0.9"/><line x1="70.2" y1="318.65" x2="72.8" y2="318.65" stroke="#8c8c8c" stroke-width="0.9"/><line x1="70.2" y1="316.62" x2="72.8" y2="316.62" stroke="#8c8c8c" stroke-width="0.9"/><line x1="69.6" y1="354.55" x2="72.8" y2="354.55" stroke="#7a7a7a" stroke-width="1"/><line x1="70.2" y1="382.33" x2="72.8" y2="382.33" stroke="#8c8c8c" stroke-width="0.9"/><line x1="70.2" y1="375.33" x2="72.8" y2="375.33" stroke="#8c8c8c" stroke-width="0.9"/><line x1="70.2" y1="370.37" x2="72.8" y2="370.37" stroke="#8c8c8c" stroke-width="0.9"/><line x1="70.2" y1="366.52" x2="72.8" y2="366.52" stroke="#8c8c8c" stroke-width="0.9"/><line x1="70.2" y1="363.37" x2="72.8" y2="363.37" stroke="#8c8c8c" stroke-width="0.9"/><line x1="70.2" y1="360.71" x2="72.8" y2="360.71" stroke="#8c8c8c" stroke-width="0.9"/><line x1="70.2" y1="358.40" x2="72.8" y2="358.40" stroke="#8c8c8c" stroke-width="0.9"/><line x1="70.2" y1="356.37" x2="72.8" y2="356.37" stroke="#8c8c8c" stroke-width="0.9"/><line x1="69.6" y1="394.30" x2="72.8" y2="394.30" stroke="#7a7a7a" stroke-width="1"/><line x1="70.2" y1="422.08" x2="72.8" y2="422.08" stroke="#8c8c8c" stroke-width="0.9"/><line x1="70.2" y1="415.08" x2="72.8" y2="415.08" stroke="#8c8c8c" stroke-width="0.9"/><line x1="70.2" y1="410.12" x2="72.8" y2="410.12" stroke="#8c8c8c" stroke-width="0.9"/><line x1="70.2" y1="406.27" x2="72.8" y2="406.27" stroke="#8c8c8c" stroke-width="0.9"/><line x1="70.2" y1="403.12" x2="72.8" y2="403.12" stroke="#8c8c8c" stroke-width="0.9"/><line x1="70.2" y1="400.46" x2="72.8" y2="400.46" stroke="#8c8c8c" stroke-width="0.9"/><line x1="70.2" y1="398.15" x2="72.8" y2="398.15" stroke="#8c8c8c" stroke-width="0.9"/><line x1="70.2" y1="396.12" x2="72.8" y2="396.12" stroke="#8c8c8c" stroke-width="0.9"/><line x1="69.6" y1="434.05" x2="72.8" y2="434.05" stroke="#7a7a7a" stroke-width="1"/><line x1="70.2" y1="461.83" x2="72.8" y2="461.83" stroke="#8c8c8c" stroke-width="0.9"/><line x1="70.2" y1="454.83" x2="72.8" y2="454.83" stroke="#8c8c8c" stroke-width="0.9"/><line x1="70.2" y1="449.87" x2="72.8" y2="449.87" stroke="#8c8c8c" stroke-width="0.9"/><line x1="70.2" y1="446.02" x2="72.8" y2="446.02" stroke="#8c8c8c" stroke-width="0.9"/><line x1="70.2" y1="442.87" x2="72.8" y2="442.87" stroke="#8c8c8c" stroke-width="0.9"/><line x1="70.2" y1="440.21" x2="72.8" y2="440.21" stroke="#8c8c8c" stroke-width="0.9"/><line x1="70.2" y1="437.90" x2="72.8" y2="437.90" stroke="#8c8c8c" stroke-width="0.9"/><line x1="70.2" y1="435.87" x2="72.8" y2="435.87" stroke="#8c8c8c" stroke-width="0.9"/><line x1="69.6" y1="473.80" x2="72.8" y2="473.80" stroke="#7a7a7a" stroke-width="1"/><line x1="70.2" y1="501.58" x2="72.8" y2="501.58" stroke="#8c8c8c" stroke-width="0.9"/><line x1="70.2" y1="494.58" x2="72.8" y2="494.58" stroke="#8c8c8c" stroke-width="0.9"/><line x1="70.2" y1="489.62" x2="72.8" y2="489.62" stroke="#8c8c8c" stroke-width="0.9"/><line x1="70.2" y1="485.77" x2="72.8" y2="485.77" stroke="#8c8c8c" stroke-width="0.9"/><line x1="70.2" y1="482.62" x2="72.8" y2="482.62" stroke="#8c8c8c" stroke-width="0.9"/><line x1="70.2" y1="479.96" x2="72.8" y2="479.96" stroke="#8c8c8c" stroke-width="0.9"/><line x1="70.2" y1="477.65" x2="72.8" y2="477.65" stroke="#8c8c8c" stroke-width="0.9"/><line x1="70.2" y1="475.62" x2="72.8" y2="475.62" stroke="#8c8c8c" stroke-width="0.9"/><line x1="77.5" y1="513.5" x2="77.5" y2="516.0" stroke="#9a9a9a" stroke-width="0.8"/><line x1="164.2" y1="513.5" x2="164.2" y2="516.0" stroke="#9a9a9a" stroke-width="0.8"/><line x1="172.9" y1="513.5" x2="172.9" y2="516.0" stroke="#9a9a9a" stroke-width="0.8"/><line x1="260.0" y1="513.5" x2="260.0" y2="516.0" stroke="#9a9a9a" stroke-width="0.8"/><line x1="323.8" y1="314.40" x2="517" y2="314.40" stroke="#e6e6e6" stroke-width="1"/><line x1="323.8" y1="353.65" x2="517" y2="353.65" stroke="#e6e6e6" stroke-width="1"/><line x1="323.8" y1="392.90" x2="517" y2="392.90" stroke="#e6e6e6" stroke-width="1"/><line x1="323.8" y1="432.15" x2="517" y2="432.15" stroke="#e6e6e6" stroke-width="1"/><line x1="323.8" y1="471.40" x2="517" y2="471.40" stroke="#e6e6e6" stroke-width="1"/><line x1="328.3" y1="314.4" x2="328.3" y2="510.3" stroke="#efefef" stroke-width="1"/><line x1="416.6" y1="314.4" x2="416.6" y2="510.3" stroke="#efefef" stroke-width="1"/><line x1="425.7" y1="314.4" x2="425.7" y2="510.3" stroke="#efefef" stroke-width="1"/><line x1="513.4" y1="314.4" x2="513.4" y2="510.3" stroke="#efefef" stroke-width="1"/><line x1="328.3" y1="385.8" x2="416.6" y2="379.8" stroke="#747474" stroke-width="0.9"/><line x1="328.3" y1="385.8" x2="416.6" y2="388.8" stroke="#747474" stroke-width="0.9"/><line x1="328.3" y1="482.4" x2="416.6" y2="439" stroke="#5e5e5e" stroke-width="1.0"/><line x1="328.3" y1="470.4" x2="416.6" y2="466.9" stroke="#747474" stroke-width="0.9"/><line x1="328.3" y1="473.2" x2="416.6" y2="469.9" stroke="#747474" stroke-width="0.9"/><line x1="328.3" y1="487.3" x2="416.6" y2="483.2" stroke="#747474" stroke-width="0.9"/><line x1="328.3" y1="494.4" x2="416.6" y2="487" stroke="#747474" stroke-width="0.9"/><line x1="328.3" y1="500" x2="416.6" y2="491.5" stroke="#747474" stroke-width="0.9"/><line x1="328.3" y1="396.1" x2="416.6" y2="402.4" stroke="#747474" stroke-width="0.9"/><line x1="328.3" y1="396.1" x2="416.6" y2="399.4" stroke="#747474" stroke-width="0.9"/><line x1="328.3" y1="397.3" x2="416.6" y2="408.9" stroke="#747474" stroke-width="0.9"/><line x1="328.3" y1="402.9" x2="416.6" y2="406.9" stroke="#747474" stroke-width="0.9"/><line x1="328.3" y1="407.4" x2="416.6" y2="411.0" stroke="#747474" stroke-width="0.9"/><line x1="328.3" y1="409.6" x2="416.6" y2="417.9" stroke="#747474" stroke-width="0.9"/><line x1="328.3" y1="414.9" x2="416.6" y2="420.5" stroke="#747474" stroke-width="0.9"/><line x1="328.3" y1="416.4" x2="416.6" y2="417.9" stroke="#747474" stroke-width="0.9"/><line x1="328.3" y1="420.2" x2="416.6" y2="425.7" stroke="#747474" stroke-width="0.9"/><line x1="328.3" y1="422.4" x2="416.6" y2="423.5" stroke="#747474" stroke-width="0.9"/><line x1="328.3" y1="427.0" x2="416.6" y2="430.2" stroke="#747474" stroke-width="0.9"/><line x1="328.3" y1="428.5" x2="416.6" y2="428.0" stroke="#747474" stroke-width="0.9"/><line x1="328.3" y1="431.5" x2="416.6" y2="437.0" stroke="#747474" stroke-width="0.9"/><line x1="328.3" y1="433.7" x2="416.6" y2="433.3" stroke="#747474" stroke-width="0.9"/><line x1="328.3" y1="436.7" x2="416.6" y2="434.8" stroke="#747474" stroke-width="0.9"/><line x1="328.3" y1="439.8" x2="416.6" y2="441.8" stroke="#747474" stroke-width="0.9"/><line x1="328.3" y1="441.3" x2="416.6" y2="443.8" stroke="#747474" stroke-width="0.9"/><line x1="328.3" y1="442.1" x2="416.6" y2="440.8" stroke="#747474" stroke-width="0.9"/><line x1="328.3" y1="445.9" x2="416.6" y2="445.5" stroke="#747474" stroke-width="0.9"/><line x1="328.3" y1="447.3" x2="416.6" y2="447.0" stroke="#747474" stroke-width="0.9"/><line x1="328.3" y1="449.2" x2="416.6" y2="450.1" stroke="#747474" stroke-width="0.9"/><line x1="328.3" y1="450.3" x2="416.6" y2="456.1" stroke="#747474" stroke-width="0.9"/><line x1="328.3" y1="426.3" x2="416.6" y2="431.6" stroke="#747474" stroke-width="0.9"/><line x1="425.7" y1="334.2" x2="513.4" y2="371.2" stroke="#5e5e5e" stroke-width="1.0"/><line x1="425.7" y1="340.8" x2="513.4" y2="364.4" stroke="#747474" stroke-width="0.9"/><line x1="425.7" y1="351.9" x2="513.4" y2="371.7" stroke="#747474" stroke-width="0.9"/><line x1="425.7" y1="362.5" x2="513.4" y2="391.3" stroke="#747474" stroke-width="0.9"/><line x1="425.7" y1="414.3" x2="513.4" y2="473" stroke="#5e5e5e" stroke-width="1.0"/><line x1="425.7" y1="457.2" x2="513.4" y2="500.2" stroke="#5e5e5e" stroke-width="1.0"/><line x1="425.7" y1="428.5" x2="513.4" y2="472.5" stroke="#5e5e5e" stroke-width="1.0"/><line x1="425.7" y1="433.0" x2="513.4" y2="473.5" stroke="#5e5e5e" stroke-width="1.0"/><line x1="425.7" y1="366.1" x2="513.4" y2="394.2" stroke="#747474" stroke-width="0.9"/><line x1="425.7" y1="369.9" x2="513.4" y2="397.2" stroke="#747474" stroke-width="0.9"/><line x1="425.7" y1="372.2" x2="513.4" y2="399.4" stroke="#747474" stroke-width="0.9"/><line x1="425.7" y1="375.2" x2="513.4" y2="399.4" stroke="#747474" stroke-width="0.9"/><line x1="425.7" y1="377.4" x2="513.4" y2="401.7" stroke="#747474" stroke-width="0.9"/><line x1="425.7" y1="380.5" x2="513.4" y2="408.0" stroke="#747474" stroke-width="0.9"/><line x1="425.7" y1="380.5" x2="513.4" y2="410.0" stroke="#747474" stroke-width="0.9"/><line x1="425.7" y1="382.7" x2="513.4" y2="404.7" stroke="#747474" stroke-width="0.9"/><line x1="425.7" y1="385.7" x2="513.4" y2="413.0" stroke="#747474" stroke-width="0.9"/><line x1="425.7" y1="388.0" x2="513.4" y2="415.2" stroke="#747474" stroke-width="0.9"/><line x1="425.7" y1="391.0" x2="513.4" y2="419.0" stroke="#747474" stroke-width="0.9"/><line x1="425.7" y1="394.0" x2="513.4" y2="421.3" stroke="#747474" stroke-width="0.9"/><line x1="425.7" y1="396.3" x2="513.4" y2="427.4" stroke="#747474" stroke-width="0.9"/><line x1="425.7" y1="400.0" x2="513.4" y2="425.0" stroke="#747474" stroke-width="0.9"/><line x1="425.7" y1="401.5" x2="513.4" y2="428.8" stroke="#747474" stroke-width="0.9"/><line x1="425.7" y1="402.3" x2="513.4" y2="429.8" stroke="#747474" stroke-width="0.9"/><line x1="425.7" y1="404.5" x2="513.4" y2="431.0" stroke="#747474" stroke-width="0.9"/><line x1="425.7" y1="405.3" x2="513.4" y2="435.4" stroke="#747474" stroke-width="0.9"/><line x1="425.7" y1="409.0" x2="513.4" y2="433.3" stroke="#747474" stroke-width="0.9"/><line x1="425.7" y1="409.1" x2="513.4" y2="438.6" stroke="#747474" stroke-width="0.9"/><line x1="425.7" y1="415.8" x2="513.4" y2="442.6" stroke="#747474" stroke-width="0.9"/><line x1="425.7" y1="420.3" x2="513.4" y2="445.0" stroke="#747474" stroke-width="0.9"/><line x1="425.7" y1="423.3" x2="513.4" y2="442.6" stroke="#747474" stroke-width="0.9"/><line x1="425.7" y1="427.9" x2="513.4" y2="448.0" stroke="#747474" stroke-width="0.9"/><line x1="425.7" y1="431.6" x2="513.4" y2="451.4" stroke="#747474" stroke-width="0.9"/><line x1="425.7" y1="433.9" x2="513.4" y2="455.0" stroke="#747474" stroke-width="0.9"/><line x1="425.7" y1="436.1" x2="513.4" y2="473.0" stroke="#5e5e5e" stroke-width="1.0"/><line x1="425.7" y1="442.2" x2="513.4" y2="461.0" stroke="#747474" stroke-width="0.9"/><line x1="425.7" y1="450.5" x2="513.4" y2="465.8" stroke="#747474" stroke-width="0.9"/><line x1="425.7" y1="374.9" x2="513.4" y2="400.5" stroke="#747474" stroke-width="0.9"/><line x1="425.7" y1="379.4" x2="513.4" y2="407.6" stroke="#747474" stroke-width="0.9"/><line x1="425.7" y1="380.3" x2="513.4" y2="411.1" stroke="#747474" stroke-width="0.9"/><line x1="425.7" y1="389.5" x2="513.4" y2="420.7" stroke="#747474" stroke-width="0.9"/><line x1="392.5" y1="510.3" x2="416.6" y2="502" stroke="#7a7a7a" stroke-width="0.9"/><line x1="323.8" y1="313.9" x2="323.8" y2="510.3" stroke="#888888" stroke-width="1"/><line x1="323.8" y1="510.3" x2="517" y2="510.3" stroke="#888888" stroke-width="1"/><line x1="320.6" y1="314.40" x2="323.8" y2="314.40" stroke="#7a7a7a" stroke-width="1"/><line x1="321.2" y1="341.83" x2="323.8" y2="341.83" stroke="#8c8c8c" stroke-width="0.9"/><line x1="321.2" y1="334.92" x2="323.8" y2="334.92" stroke="#8c8c8c" stroke-width="0.9"/><line x1="321.2" y1="330.02" x2="323.8" y2="330.02" stroke="#8c8c8c" stroke-width="0.9"/><line x1="321.2" y1="326.22" x2="323.8" y2="326.22" stroke="#8c8c8c" stroke-width="0.9"/><line x1="321.2" y1="323.11" x2="323.8" y2="323.11" stroke="#8c8c8c" stroke-width="0.9"/><line x1="321.2" y1="320.48" x2="323.8" y2="320.48" stroke="#8c8c8c" stroke-width="0.9"/><line x1="321.2" y1="318.20" x2="323.8" y2="318.20" stroke="#8c8c8c" stroke-width="0.9"/><line x1="321.2" y1="316.20" x2="323.8" y2="316.20" stroke="#8c8c8c" stroke-width="0.9"/><line x1="320.6" y1="353.65" x2="323.8" y2="353.65" stroke="#7a7a7a" stroke-width="1"/><line x1="321.2" y1="381.08" x2="323.8" y2="381.08" stroke="#8c8c8c" stroke-width="0.9"/><line x1="321.2" y1="374.17" x2="323.8" y2="374.17" stroke="#8c8c8c" stroke-width="0.9"/><line x1="321.2" y1="369.27" x2="323.8" y2="369.27" stroke="#8c8c8c" stroke-width="0.9"/><line x1="321.2" y1="365.47" x2="323.8" y2="365.47" stroke="#8c8c8c" stroke-width="0.9"/><line x1="321.2" y1="362.36" x2="323.8" y2="362.36" stroke="#8c8c8c" stroke-width="0.9"/><line x1="321.2" y1="359.73" x2="323.8" y2="359.73" stroke="#8c8c8c" stroke-width="0.9"/><line x1="321.2" y1="357.45" x2="323.8" y2="357.45" stroke="#8c8c8c" stroke-width="0.9"/><line x1="321.2" y1="355.45" x2="323.8" y2="355.45" stroke="#8c8c8c" stroke-width="0.9"/><line x1="320.6" y1="392.90" x2="323.8" y2="392.90" stroke="#7a7a7a" stroke-width="1"/><line x1="321.2" y1="420.33" x2="323.8" y2="420.33" stroke="#8c8c8c" stroke-width="0.9"/><line x1="321.2" y1="413.42" x2="323.8" y2="413.42" stroke="#8c8c8c" stroke-width="0.9"/><line x1="321.2" y1="408.52" x2="323.8" y2="408.52" stroke="#8c8c8c" stroke-width="0.9"/><line x1="321.2" y1="404.72" x2="323.8" y2="404.72" stroke="#8c8c8c" stroke-width="0.9"/><line x1="321.2" y1="401.61" x2="323.8" y2="401.61" stroke="#8c8c8c" stroke-width="0.9"/><line x1="321.2" y1="398.98" x2="323.8" y2="398.98" stroke="#8c8c8c" stroke-width="0.9"/><line x1="321.2" y1="396.70" x2="323.8" y2="396.70" stroke="#8c8c8c" stroke-width="0.9"/><line x1="321.2" y1="394.70" x2="323.8" y2="394.70" stroke="#8c8c8c" stroke-width="0.9"/><line x1="320.6" y1="432.15" x2="323.8" y2="432.15" stroke="#7a7a7a" stroke-width="1"/><line x1="321.2" y1="459.58" x2="323.8" y2="459.58" stroke="#8c8c8c" stroke-width="0.9"/><line x1="321.2" y1="452.67" x2="323.8" y2="452.67" stroke="#8c8c8c" stroke-width="0.9"/><line x1="321.2" y1="447.77" x2="323.8" y2="447.77" stroke="#8c8c8c" stroke-width="0.9"/><line x1="321.2" y1="443.97" x2="323.8" y2="443.97" stroke="#8c8c8c" stroke-width="0.9"/><line x1="321.2" y1="440.86" x2="323.8" y2="440.86" stroke="#8c8c8c" stroke-width="0.9"/><line x1="321.2" y1="438.23" x2="323.8" y2="438.23" stroke="#8c8c8c" stroke-width="0.9"/><line x1="321.2" y1="435.95" x2="323.8" y2="435.95" stroke="#8c8c8c" stroke-width="0.9"/><line x1="321.2" y1="433.95" x2="323.8" y2="433.95" stroke="#8c8c8c" stroke-width="0.9"/><line x1="320.6" y1="471.40" x2="323.8" y2="471.40" stroke="#7a7a7a" stroke-width="1"/><line x1="321.2" y1="498.83" x2="323.8" y2="498.83" stroke="#8c8c8c" stroke-width="0.9"/><line x1="321.2" y1="491.92" x2="323.8" y2="491.92" stroke="#8c8c8c" stroke-width="0.9"/><line x1="321.2" y1="487.02" x2="323.8" y2="487.02" stroke="#8c8c8c" stroke-width="0.9"/><line x1="321.2" y1="483.22" x2="323.8" y2="483.22" stroke="#8c8c8c" stroke-width="0.9"/><line x1="321.2" y1="480.11" x2="323.8" y2="480.11" stroke="#8c8c8c" stroke-width="0.9"/><line x1="321.2" y1="477.48" x2="323.8" y2="477.48" stroke="#8c8c8c" stroke-width="0.9"/><line x1="321.2" y1="475.20" x2="323.8" y2="475.20" stroke="#8c8c8c" stroke-width="0.9"/><line x1="321.2" y1="473.20" x2="323.8" y2="473.20" stroke="#8c8c8c" stroke-width="0.9"/><line x1="328.3" y1="510.3" x2="328.3" y2="512.8" stroke="#9a9a9a" stroke-width="0.8"/><line x1="416.6" y1="510.3" x2="416.6" y2="512.8" stroke="#9a9a9a" stroke-width="0.8"/><line x1="425.7" y1="510.3" x2="425.7" y2="512.8" stroke="#9a9a9a" stroke-width="0.8"/><line x1="513.4" y1="510.3" x2="513.4" y2="512.8" stroke="#9a9a9a" stroke-width="0.8"/><g font-family="Liberation Sans, sans-serif" font-weight="bold" fill="#000" stroke="#000" stroke-width="0.35"><text transform="translate(88.44,12.60) scale(1.0,1)" font-size="13.12">6h upregulated by RSG</text><text transform="translate(98.65,28.00) scale(1.0,1)" font-size="13.00">(76 out of 88; 86.4%)</text><text transform="translate(337.05,12.60) scale(1.0,1)" font-size="12.87">6h downregulated by RSG</text><text transform="translate(364.36,28.00) scale(1.0,1)" font-size="12.85">(9 out of 12; 75%)</text><text transform="translate(91.24,291.20) scale(1.0,1)" font-size="13.06">24h upregulated by RSG</text><text transform="translate(103.14,306.80) scale(1.0,1)" font-size="13.26">(51 out of 74; 68.9%)</text><text transform="translate(335.33,291.20) scale(1.0,1)" font-size="13.32">24h downregulated by RSG</text><text transform="translate(360.67,306.80) scale(1.0,1)" font-size="12.65">(45 out of 51; 88.9%)</text><text transform="translate(11.60,192.60) scale(1.045,1) rotate(-90)" font-size="13.20">Relaltive expression</text><text transform="translate(27.20,206.48) scale(1.045,1) rotate(-90)" font-size="13.20">normalized to cyclophilin</text><text transform="translate(10.40,477.11) scale(1.045,1) rotate(-90)" font-size="13.20">Relaltive expression</text><text transform="translate(26.00,490.33) scale(1.045,1) rotate(-90)" font-size="13.20">normalized to cyclophilin</text><text transform="translate(54.41,47.50) scale(1.0,1)" font-size="12.70">10</text><text transform="translate(61.27,84.50) scale(1.0,1)" font-size="12.70">1</text><text transform="translate(57.71,122.50) scale(1.0,1)" font-size="12.70">.1</text><text transform="translate(50.66,160.30) scale(1.0,1)" font-size="12.70">.01</text><text transform="translate(43.62,199.00) scale(1.0,1)" font-size="12.70">.001</text><text transform="translate(304.41,46.00) scale(1.0,1)" font-size="12.70">10</text><text transform="translate(311.27,84.50) scale(1.0,1)" font-size="12.70">1</text><text transform="translate(307.71,123.30) scale(1.0,1)" font-size="12.70">.1</text><text transform="translate(300.66,162.50) scale(1.0,1)" font-size="12.70">.01</text><text transform="translate(293.62,201.80) scale(1.0,1)" font-size="12.70">.001</text><text transform="translate(53.71,321.00) scale(1.0,1)" font-size="12.70">10</text><text transform="translate(60.57,359.50) scale(1.0,1)" font-size="12.70">1</text><text transform="translate(57.01,398.20) scale(1.0,1)" font-size="12.70">.1</text><text transform="translate(49.96,437.00) scale(1.0,1)" font-size="12.70">.01</text><text transform="translate(42.92,473.00) scale(1.0,1)" font-size="12.70">.001</text><text transform="translate(304.61,321.00) scale(1.0,1)" font-size="12.70">10</text><text transform="translate(311.47,359.00) scale(1.0,1)" font-size="12.70">1</text><text transform="translate(307.91,398.80) scale(1.0,1)" font-size="12.70">.1</text><text transform="translate(300.86,437.20) scale(1.0,1)" font-size="12.70">.01</text><text transform="translate(293.82,476.40) scale(1.0,1)" font-size="12.70">.001</text><text transform="translate(43.04,245.40) scale(1.0,1)" font-size="13.19">RGS:</text><text transform="translate(112.26,251.80) scale(1.0,1)" font-size="12.62">6h</text><text transform="translate(209.35,251.80) scale(1.0,1)" font-size="12.98">24h</text><text transform="translate(160.86,246.83) scale(1.0,1)" font-size="13.80">+</text><text transform="translate(256.21,246.53) scale(1.0,1)" font-size="13.80">+</text><text transform="translate(293.93,246.00) scale(1.0,1)" font-size="13.32">RGS:</text><text transform="translate(362.94,252.50) scale(1.0,1)" font-size="13.08">6h</text><text transform="translate(462.16,254.10) scale(1.0,1)" font-size="12.68">24h</text><text transform="translate(412.91,249.03) scale(1.0,1)" font-size="13.80">+</text><text transform="translate(510.06,249.23) scale(1.0,1)" font-size="13.80">+</text><text transform="translate(42.45,526.70) scale(1.0,1)" font-size="13.10">RGS:</text><text transform="translate(110.67,529.20) scale(1.0,1)" font-size="12.34">6h</text><text transform="translate(206.66,528.20) scale(1.0,1)" font-size="12.68">24h</text><text transform="translate(160.06,526.53) scale(1.0,1)" font-size="13.80">+</text><text transform="translate(255.56,525.24) scale(1.0,1)" font-size="13.80">+</text><text transform="translate(294.77,523.70) scale(1.0,1)" font-size="12.81">RGS:</text><text transform="translate(362.94,528.50) scale(1.0,1)" font-size="13.08">6h</text><text transform="translate(460.65,528.10) scale(1.0,1)" font-size="12.86">24h</text><text transform="translate(413.06,524.53) scale(1.0,1)" font-size="13.80">+</text><text transform="translate(510.11,524.34) scale(1.0,1)" font-size="13.80">+</text></g></svg></body></html>
